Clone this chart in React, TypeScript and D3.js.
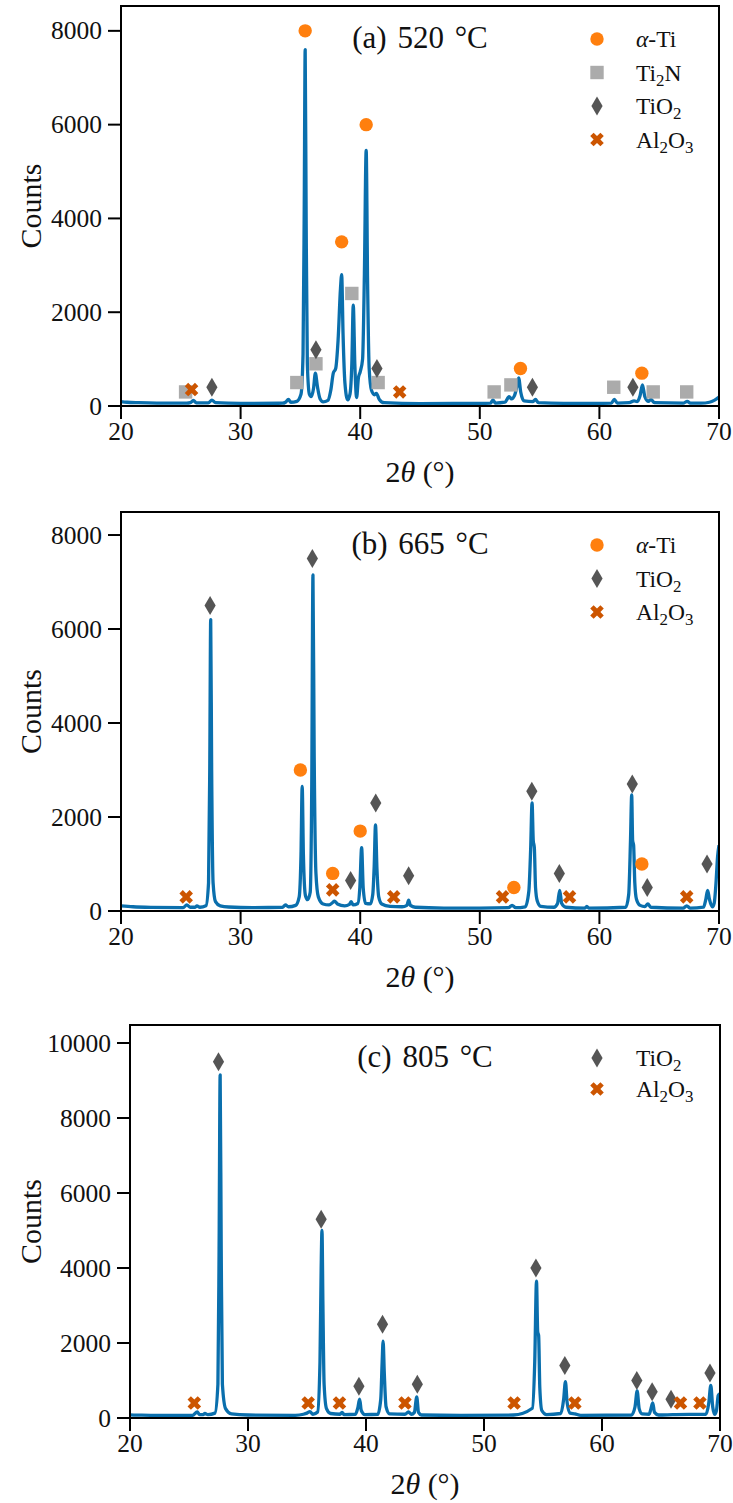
import React from 'react';
import * as d3 from 'd3';

type P = [number, number];

// ---------- Data (2θ in degrees, counts) ----------
const xTicks = [20, 30, 40, 50, 60, 70];
const yTicksAB = [0, 2000, 4000, 6000, 8000];
const yTicksC = [0, 2000, 4000, 6000, 8000, 10000];

const titles = ['(a) 520 °C', '(b) 665 °C', '(c) 805 °C'];

const patternA: P[] = [
  [20, 95], [20.5, 80], [21.5, 70], [23, 62], [25.5, 60], [25.8, 70], [26.05, 120], [26.3, 68],
  [27.3, 65], [27.6, 125], [27.9, 70], [30, 55], [33.5, 60], [33.75, 80], [34.0, 140], [34.2, 80],
  [34.7, 100], [35.05, 250], [35.22, 1100], [35.32, 4200], [35.4, 7600], [35.48, 4000], [35.58, 900],
  [35.75, 250], [35.9, 200], [36.1, 380], [36.25, 700], [36.42, 420], [36.65, 150], [36.9, 90],
  [37.3, 120], [37.55, 350], [37.75, 700], [37.95, 800], [38.15, 1400], [38.35, 2500], [38.45, 2800],
  [38.57, 1500], [38.72, 500], [38.95, 130], [39.15, 260], [39.3, 900], [39.42, 2150], [39.55, 900],
  [39.7, 180], [39.85, 600], [40.0, 730], [40.2, 1000], [40.35, 2800], [40.5, 5450], [40.62, 2600],
  [40.75, 800], [40.95, 330], [41.2, 240], [41.35, 270], [41.6, 140], [42.0, 70], [45, 52], [50, 55],
  [50.9, 60], [51.1, 130], [51.3, 62], [52.1, 80], [52.45, 200], [52.65, 150], [52.9, 220], [53.1, 420],
  [53.25, 600], [53.42, 300], [53.7, 110], [54.45, 95], [54.65, 140], [54.9, 70], [57, 55], [60, 58],
  [61.0, 62], [61.25, 140], [61.5, 62], [62.5, 70], [62.9, 110], [63.15, 95], [63.4, 220], [63.6, 450],
  [63.8, 200], [64.1, 100], [64.3, 140], [64.6, 70], [67, 60], [67.35, 100], [67.6, 60], [68.5, 60],
  [69.2, 80], [69.6, 120], [70, 190],
];

const patternB: P[] = [
  [20, 110], [21, 90], [22.5, 78], [25.2, 72], [25.5, 130], [25.8, 80], [26.2, 80], [26.35, 110],
  [26.6, 80], [27.1, 110], [27.32, 600], [27.42, 3000], [27.5, 6200], [27.58, 3000], [27.7, 600],
  [27.9, 200], [28.3, 110], [29, 85], [31, 72], [33.5, 80], [33.75, 130], [34.0, 90], [34.6, 120],
  [34.9, 300], [35.05, 1200], [35.15, 2650], [35.25, 1200], [35.42, 330], [35.6, 240], [35.82, 400],
  [35.95, 2700], [36.05, 7150], [36.15, 3400], [36.3, 800], [36.5, 300], [36.9, 150], [37.4, 130],
  [37.7, 180], [37.85, 210], [38.1, 150], [38.7, 110], [39.1, 140], [39.25, 200], [39.4, 130],
  [39.8, 160], [39.97, 500], [40.12, 1350], [40.25, 500], [40.45, 160], [40.85, 150], [41.05, 350],
  [41.17, 950], [41.28, 1830], [41.4, 900], [41.55, 300], [41.8, 150], [42.5, 100], [43.5, 90],
  [43.9, 120], [44.05, 230], [44.2, 120], [44.6, 80], [47, 62], [50, 60], [52.4, 70], [52.7, 120],
  [53, 70], [53.8, 90], [54.1, 420], [54.25, 1300], [54.37, 2300], [54.47, 1500], [54.56, 1350],
  [54.66, 500], [54.8, 220], [55.1, 100], [56.2, 80], [56.5, 160], [56.68, 440], [56.85, 160],
  [57.2, 80], [58.8, 62], [58.95, 100], [59.1, 62], [62.2, 80], [62.45, 350], [62.6, 1500],
  [62.7, 2470], [62.78, 1500], [62.86, 1400], [62.96, 600], [63.1, 250], [63.4, 120], [63.8, 95],
  [64.05, 150], [64.3, 80], [67.0, 60], [67.3, 110], [67.6, 60], [68.7, 80], [68.9, 250], [69.05, 440],
  [69.2, 250], [69.45, 90], [69.6, 170], [69.75, 600], [69.88, 1150], [70, 1400],
];

const patternC: P[] = [
  [20, 85], [21, 75], [22.5, 70], [25.3, 70], [25.7, 160], [25.9, 90], [26.2, 90], [26.35, 120],
  [26.6, 90], [27.2, 130], [27.45, 900], [27.55, 4500], [27.64, 9150], [27.73, 4500], [27.83, 900],
  [28.1, 250], [28.6, 110], [30, 80], [34, 72], [34.7, 100], [35.0, 130], [35.25, 170], [35.5, 100],
  [35.9, 160], [36.1, 1500], [36.2, 4000], [36.27, 5000], [36.35, 3000], [36.45, 900], [36.65, 250],
  [37.0, 120], [37.8, 100], [37.97, 150], [38.15, 90], [39.1, 100], [39.3, 260], [39.46, 500],
  [39.6, 200], [39.9, 90], [41.0, 100], [41.25, 500], [41.37, 1500], [41.45, 2050], [41.55, 1200],
  [41.7, 300], [42.0, 110], [43.3, 100], [43.6, 160], [43.85, 100], [44.1, 150], [44.3, 560],
  [44.45, 150], [44.7, 80], [48, 70], [52.5, 80], [54.1, 260], [54.3, 1500], [54.45, 3650],
  [54.55, 2300], [54.63, 2200], [54.73, 800], [54.9, 200], [55.3, 90], [56.5, 120], [56.75, 500],
  [56.9, 970], [57.05, 400], [57.3, 130], [57.7, 110], [58.2, 70], [62.5, 80], [62.8, 300],
  [62.98, 720], [63.15, 250], [63.4, 110], [64.0, 100], [64.15, 250], [64.3, 400], [64.45, 150],
  [64.8, 80], [66.0, 90], [68.8, 100], [69.05, 400], [69.22, 870], [69.38, 300], [69.55, 100],
  [69.7, 200], [69.85, 600], [70, 650],
];

// phase markers
const aAlphaTi: P[] = [[35.4, 8000], [38.45, 3500], [40.5, 6000], [53.4, 800], [63.55, 700]];
const aTi2N: P[] = [[25.4, 300], [34.7, 500], [36.3, 900], [39.3, 2400], [41.5, 500], [51.2, 300], [52.6, 450], [61.2, 400], [64.5, 300], [67.3, 300]];
const aTiO2: P[] = [[27.6, 400], [36.3, 1200], [41.4, 800], [54.4, 400], [62.8, 400]];
const aAl2O3: P[] = [[25.9, 350], [43.3, 300]];

const bAlphaTi: P[] = [[35.0, 3000], [37.7, 800], [40.0, 1700], [52.85, 500], [63.55, 1000]];
const bTiO2: P[] = [[27.45, 6500], [36.0, 7500], [39.2, 650], [41.3, 2300], [44.05, 750], [54.35, 2550], [56.65, 800], [62.75, 2700], [64.0, 500], [69.0, 1000]];
const bAl2O3: P[] = [[25.45, 300], [37.7, 450], [42.8, 300], [51.9, 300], [57.5, 300], [67.3, 300]];

const cTiO2: P[] = [[27.5, 9500], [36.2, 5300], [39.4, 850], [41.4, 2500], [44.35, 900], [54.4, 4000], [56.85, 1400], [62.95, 1000], [64.25, 700], [65.85, 500], [69.15, 1200]];
const cAl2O3: P[] = [[25.45, 400], [35.1, 400], [37.75, 400], [43.3, 400], [52.55, 400], [57.7, 400], [66.65, 400], [68.3, 400]];

// ---------- Styles ----------
const FONT = '"Liberation Serif", "DejaVu Serif", serif';
const LINE = '#0a6fad';
const C_ALPHA = '#ff7f0e';
const C_TI2N = '#ababab';
const C_TIO2 = '#555555';
const C_AL2O3 = '#cc5500';

type Kind = 'alpha' | 'ti2n' | 'tio2' | 'al2o3';

const Marker = ({ kind, x, y }: { kind: Kind; x: number; y: number }) => {
  if (kind === 'alpha') return <circle cx={x} cy={y} r={6.7} fill={C_ALPHA} />;
  if (kind === 'ti2n') return <rect x={x - 6.7} y={y - 6.7} width={13.4} height={13.4} fill={C_TI2N} />;
  if (kind === 'tio2')
    return <path d={`M${x},${y - 9.5}L${x + 5.6},${y}L${x},${y + 9.5}L${x - 5.6},${y}Z`} fill={C_TIO2} />;
  const p = d3.symbol().type(d3.symbolCross).size(115)();
  return <path d={p || ''} transform={`translate(${x},${y}) rotate(45)`} fill={C_AL2O3} />;
};

const Sub = ({ parts, fs }: { parts: (string | [string])[]; fs: number }) => (
  <>
    {parts.map((p, i) =>
      Array.isArray(p) ? (
        <tspan key={i} fontSize={fs * 0.72} dy={fs * 0.22}>{p[0]}</tspan>
      ) : (
        <tspan key={i} dy={i > 0 && Array.isArray(parts[i - 1]) ? -fs * 0.22 : 0}>{p}</tspan>
      )
    )}
  </>
);

const legendLabel = (kind: Kind, fs: number) => {
  if (kind === 'alpha')
    return (
      <>
        <tspan fontStyle="italic">α</tspan>
        <tspan>-Ti</tspan>
      </>
    );
  if (kind === 'ti2n') return <Sub parts={['Ti', ['2'], 'N']} fs={fs} />;
  if (kind === 'tio2') return <Sub parts={['TiO', ['2']]} fs={fs} />;
  return <Sub parts={['Al', ['2'], 'O', ['3']]} fs={fs} />;
};

type Series = { kind: Kind; pts: P[] };

type PanelProps = {
  left: number; right: number; top: number; bottom: number; ymax: number;
  yTicks: number[]; title: string; data: P[]; series: Series[]; legendStep: number;
};

const Panel = ({ left, right, top, bottom, ymax, yTicks, title, data, series, legendStep }: PanelProps) => {
  const x = d3.scaleLinear().domain([20, 70]).range([left, right]);
  const y = d3.scaleLinear().domain([0, ymax]).range([bottom, top]);
  const line = d3.line<P>().x((d) => x(d[0])).y((d) => y(d[1])).curve(d3.curveMonotoneX);
  const clipId = `clip-${top}`;
  const tl = 13;
  const fs = 25.5;
  const lfs = 23.5;
  return (
    <g fontFamily={FONT} fill="#111">
      <defs>
        <clipPath id={clipId}>
          <rect x={left} y={top} width={right - left} height={bottom - top} />
        </clipPath>
      </defs>
      <g clipPath={`url(#${clipId})`}>
        <path d={line(data) || ''} fill="none" stroke={LINE} strokeWidth={3.3} strokeLinejoin="round" />
        {series.map((s) =>
          s.pts.map((p, i) => <Marker key={s.kind + i} kind={s.kind} x={x(p[0])} y={y(p[1])} />)
        )}
      </g>
      <rect x={left} y={top} width={right - left} height={bottom - top} fill="none" stroke="#000" strokeWidth={2} />
      {xTicks.map((t) => (
        <g key={t}>
          <line x1={x(t)} x2={x(t)} y1={bottom} y2={bottom + tl} stroke="#000" strokeWidth={2} />
          <text x={x(t)} y={bottom + 34} textAnchor="middle" fontSize={fs}>{t}</text>
        </g>
      ))}
      {yTicks.map((t) => (
        <g key={t}>
          <line x1={left - tl} x2={left} y1={y(t)} y2={y(t)} stroke="#000" strokeWidth={2} />
          <text x={left - tl - 6} y={y(t) + 8.5} textAnchor="end" fontSize={fs}>{t}</text>
        </g>
      ))}
      <text x={(left + right) / 2} y={bottom + 76} textAnchor="middle" fontSize={30}>
        <tspan>2</tspan>
        <tspan fontStyle="italic">θ</tspan>
        <tspan> (°)</tspan>
      </text>
      <text transform={`translate(41,${(top + bottom) / 2}) rotate(-90)`} textAnchor="middle" fontSize={30}>
        Counts
      </text>
      <text x={(left + right) / 2} y={top + 42} textAnchor="middle" fontSize={31} wordSpacing={3}>{title}</text>
      {series.map((s, i) => (
        <g key={s.kind}>
          <Marker kind={s.kind} x={597} y={top + 33 + i * legendStep} />
          <text x={636} y={top + 33 + i * legendStep + 8} fontSize={lfs}>{legendLabel(s.kind, lfs)}</text>
        </g>
      ))}
    </g>
  );
};

export default function App() {
  return (
    <svg width={733} height={1503} style={{ position: 'absolute', left: 0, top: 0, background: '#fff' }}>
      <rect width={733} height={1503} fill="#fff" />
      <Panel left={121} right={719} top={6} bottom={406} ymax={8530} yTicks={yTicksAB} title={titles[0]}
        data={patternA} legendStep={33.5}
        series={[{ kind: 'alpha', pts: aAlphaTi }, { kind: 'ti2n', pts: aTi2N }, { kind: 'tio2', pts: aTiO2 }, { kind: 'al2o3', pts: aAl2O3 }]} />
      <Panel left={121} right={719} top={512} bottom={911} ymax={8490} yTicks={yTicksAB} title={titles[1]}
        data={patternB} legendStep={33.5}
        series={[{ kind: 'alpha', pts: bAlphaTi }, { kind: 'tio2', pts: bTiO2 }, { kind: 'al2o3', pts: bAl2O3 }]} />
      <Panel left={130} right={720} top={1025} bottom={1418} ymax={10480} yTicks={yTicksC} title={titles[2]}
        data={patternC} legendStep={31}
        series={[{ kind: 'tio2', pts: cTiO2 }, { kind: 'al2o3', pts: cAl2O3 }]} />
    </svg>
  );
}
